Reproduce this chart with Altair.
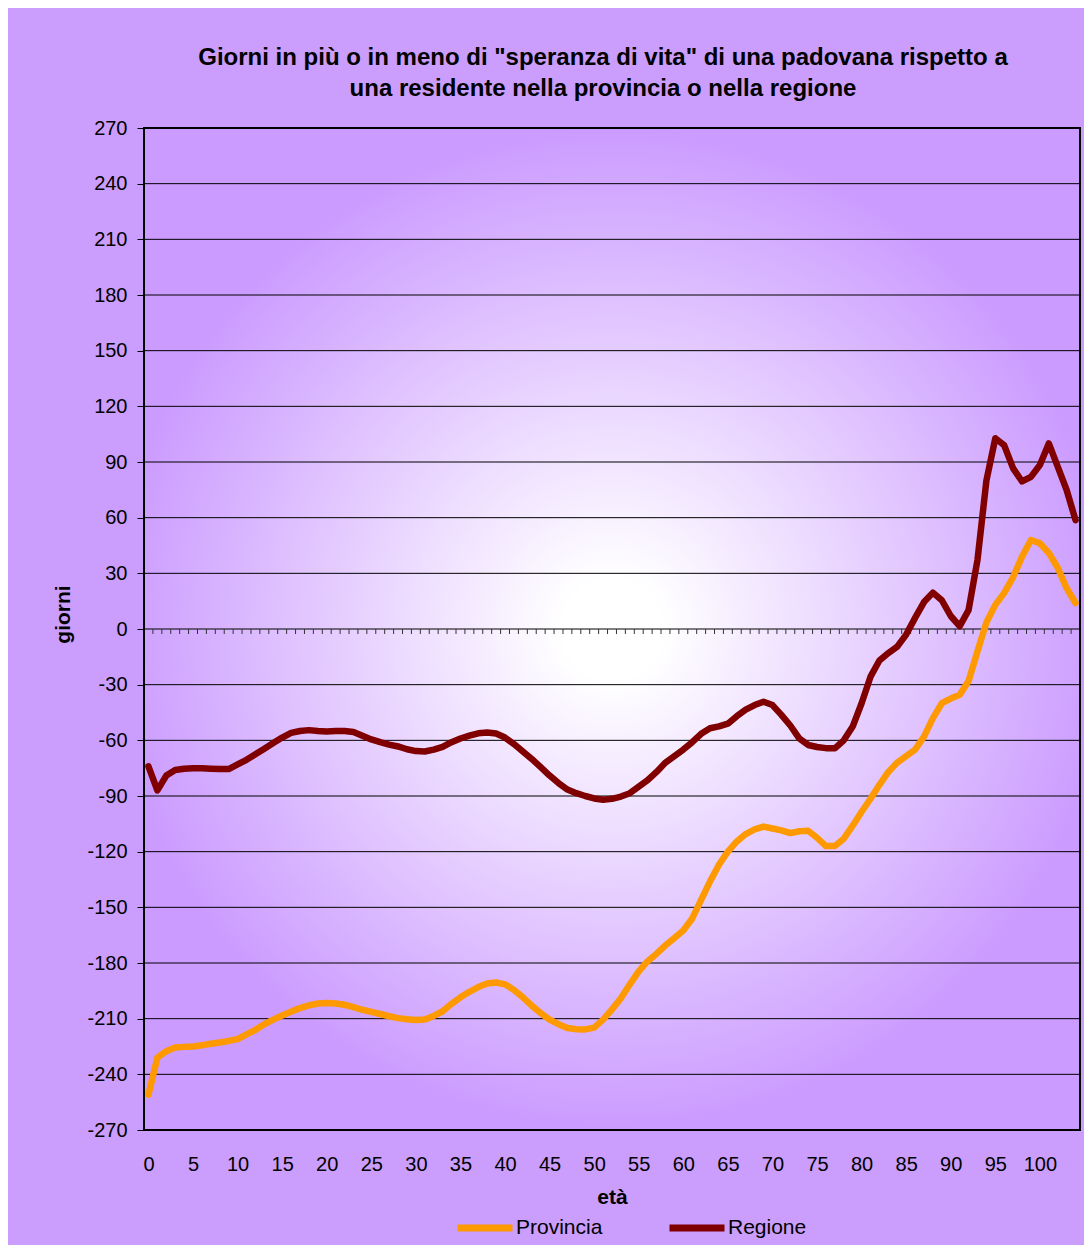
import altair as alt
import pandas as pd

ages = list(range(0, 105))

provincia = [
    -251, -231, -227.5, -225.5, -225.2, -225, -224.3, -223.5, -222.8, -222,
    -221, -218.5, -216, -213, -210.5, -208.3, -206.2, -204.3, -202.8, -201.8,
    -201.5, -201.8, -202.5, -203.8, -205.2, -206.3, -207.5, -208.7, -209.7, -210.3,
    -210.7, -210.5, -208.5, -206, -202, -198.5, -195.5, -193, -191, -190.5,
    -191.5, -194.5, -198.5, -203, -207, -210.5, -213, -215, -215.7, -215.8,
    -214.8, -210.5, -205, -199, -191.5, -184.5, -179, -175, -170.5, -166.5,
    -162.5, -156, -146, -136, -127, -120, -114.5, -110.5, -108, -106.5,
    -107.5, -108.5, -110, -109, -108.7, -112.5, -117, -117, -113, -106,
    -98.5, -91.5, -84, -77, -72, -68.5, -65, -58, -48, -40,
    -37.5, -35.5, -28, -12, 3.5, 13, 19.5, 28, 39, 48,
    46.2, 41, 33, 22, 14,
]

regione = [
    -74, -87, -79, -76, -75.3, -75, -75, -75.3, -75.5, -75.5,
    -73, -70.5, -67.5, -64.5, -61.5, -58.5, -56, -55, -54.5, -55,
    -55.2, -55, -55, -55.5, -57.5, -59.5, -61, -62.3, -63.3, -64.8,
    -65.8, -66, -65, -63.5, -61, -59, -57.5, -56.2, -55.8, -56.3,
    -58.5, -62, -66, -70, -74.5, -79, -83, -86.5, -88.5, -90,
    -91.3, -92, -91.5, -90.3, -88.5, -85, -81.5, -77, -72, -68.5,
    -65, -61, -56.5, -53.5, -52.5, -51, -47, -43.5, -41, -39.2,
    -41, -46.3, -52, -58.9, -62.5, -63.6, -64.2, -64.3, -60, -52.6,
    -40, -25.7, -17, -13, -9.5, -3, 6, 14.5, 19.6, 15.5,
    7, 1.5, 10.2, 37.2, 80, 102.8, 99, 86.6, 79.5, 82,
    88.4, 100, 87.5, 74.9, 58.7,
]

series_names = ["Provincia", "Regione"]
series_colors = ["#FF9900", "#800000"]
y_ticks = list(range(-270, 271, 30))
x_labels = list(range(0, 101, 5))
title_lines = [
    'Giorni in più o in meno di "speranza di vita" di una padovana rispetto a',
    "una residente nella provincia o nella regione",
]

df = pd.DataFrame(
    {
        "eta": ages * 2,
        "giorni": provincia + regione,
        "serie": ["Provincia"] * len(ages) + ["Regione"] * len(ages),
    }
)
grid_df = pd.DataFrame({"giorni": y_ticks})
bound_df = pd.DataFrame({"eta": [a + 0.5 for a in ages[:-1]]})

W, H = 936, 1002
FONT = "Liberation Sans"

xscale = alt.Scale(domain=[-0.5, 104.5], nice=False, zero=False)
yscale = alt.Scale(domain=[-270, 270], nice=False, zero=False)

xaxis = alt.Axis(
    values=x_labels,
    domain=False,
    ticks=False,
    tickSize=0,
    grid=False,
    labelPadding=24,
    labelFont=FONT,
    labelFontSize=20,
    labelColor="#000000",
    titleFont=FONT,
    titleFontSize=21,
    titleFontWeight="bold",
    titleColor="#000000",
    titleX=468,
    titleY=67,
    titleBaseline="middle",
    zindex=1,
)
yaxis = alt.Axis(
    values=y_ticks,
    labelExpr="'' + datum.value",
    domain=False,
    grid=False,
    tickSize=7,
    tickColor="#000000",
    labelPadding=10,
    labelFont=FONT,
    labelFontSize=20,
    labelColor="#000000",
    titleFont=FONT,
    titleFontSize=21,
    titleFontWeight="bold",
    titleColor="#000000",
    titleX=-81,
    titleY=486,
    titleAngle=-90,
    titleAlign="center",
    titleBaseline="middle",
    zindex=1,
)

X = lambda field: alt.X(field, scale=xscale, title="età", axis=xaxis)
Y = lambda field: alt.Y(field, scale=yscale, title="giorni", axis=yaxis)

bg = alt.Chart(grid_df).mark_rect(
    color=alt.Gradient(
        gradient="radial",
        stops=[
            alt.GradientStop(offset=0, color="#FFFFFF"),
            alt.GradientStop(offset=0.1, color="#FFFFFF"),
            alt.GradientStop(offset=1, color="#CB9BFF"),
        ],
        x1=0.5, y1=0.5, r1=0, x2=0.5, y2=0.5, r2=0.5,
    )
).encode(
    x=alt.value(0), x2=alt.value("width"), y=alt.value(0), y2=alt.value("height")
)

grid = alt.Chart(grid_df).mark_rule(color="#000000", strokeWidth=1).encode(
    y=Y("giorni:Q")
)

zticks = alt.Chart(bound_df).mark_rule(
    color="#333333", strokeWidth=1, y2Offset=5
).encode(
    x=X("eta:Q"),
    y=alt.datum(0),
    y2=alt.datum(0),
)

lines = alt.Chart(df).mark_line(strokeWidth=6.5, strokeJoin="round", strokeCap="round").encode(
    x=X("eta:Q"),
    y=Y("giorni:Q"),
    color=alt.Color(
        "serie:N",
        scale=alt.Scale(domain=series_names, range=series_colors),
        legend=alt.Legend(
            title=None,
            orient="none",
            direction="horizontal",
            legendX=310,
            legendY=1069,
            symbolType="stroke",
            symbolSize=3025,
            symbolStrokeWidth=7,
            labelFont=FONT,
            labelFontSize=21,
            labelColor="#000000",
            labelOffset=0,
            columnPadding=52,
        ),
    ),
)

border = alt.Chart(grid_df).mark_rect(
    fillOpacity=0, stroke="#000000", strokeWidth=2
).encode(
    x=alt.value(0), x2=alt.value("width"), y=alt.value(0), y2=alt.value("height")
)

chart = alt.layer(bg, grid, zticks, lines, border).properties(
    width=W,
    height=H,
    background="#CB9DFD",
    padding={"left": 136, "top": 120, "right": 4, "bottom": 115},
    autosize=alt.AutoSizeParams(type="none"),
    title=alt.TitleParams(
        text=title_lines,
        font=FONT,
        fontSize=24,
        fontWeight="bold",
        color="#000000",
        anchor="middle",
        lineHeight=31,
        dx=-9,
        offset=17,
    ),
).configure_view(stroke=None)

chart.save("out.html", embed_options={"renderer": "svg", "actions": False})
